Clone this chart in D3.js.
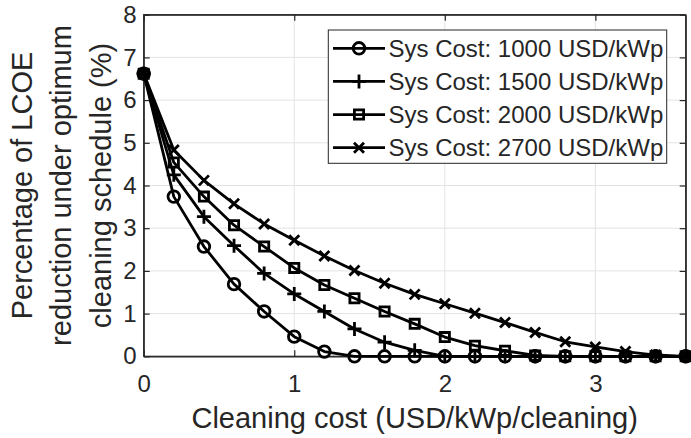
<!DOCTYPE html>
<html><head><meta charset="utf-8">
<script src="https://cdn.jsdelivr.net/npm/d3@7"></script>
<style>
html,body{margin:0;padding:0;background:#fff;}
text{font-family:"Liberation Sans",Arial,Helvetica,sans-serif;fill:#262626;}
</style></head>
<body>
<svg id="chart" width="691" height="438"></svg>
<script>
const xValues = [0,0.2,0.4,0.6,0.8,1.0,1.2,1.4,1.6,1.8,2.0,2.2,2.4,2.6,2.8,3.0,3.2,3.4,3.6];
const cost1000 = [6.62,3.74,2.57,1.69,1.05,0.46,0.11,0,0,0,0,0,0,0,0,0,0,0,0];
const cost1500 = [6.62,4.25,3.27,2.59,1.94,1.46,1.05,0.64,0.33,0.14,0,0,0,0,0,0,0,0,0];
const cost2000 = [6.62,4.54,3.74,3.07,2.57,2.07,1.67,1.36,1.05,0.76,0.45,0.25,0.13,0.02,0,0,0,0,0];
const cost2700 = [6.62,4.83,4.12,3.57,3.10,2.72,2.35,2.01,1.71,1.45,1.23,1.01,0.79,0.56,0.34,0.22,0.11,0.03,0];
const seriesNames = ["Sys Cost: 1000 USD/kWp","Sys Cost: 1500 USD/kWp","Sys Cost: 2000 USD/kWp","Sys Cost: 2700 USD/kWp"];
const markerKinds = ["circle","plus","square","cross"];
const xTicks = [0,1,2,3];
const yTicks = [0,1,2,3,4,5,6,7,8];
const xLabel = "Cleaning cost (USD/kWp/cleaning)";
const yLabelLines = ["Percentage of LCOE","reduction under optimum","cleaning schedule (%)"];

const series = [cost1000,cost1500,cost2000,cost2700].map((vals,i)=>({
  name: seriesNames[i], marker: markerKinds[i],
  points: vals.map((v,j)=>({x:xValues[j], y:v}))
}));

const svg = d3.select("#chart");
const L = 143.7, R = 685.7, T = 14.7, B = 356.3;
const x = d3.scaleLinear().domain([0,3.6]).range([L,R]);
const y = d3.scaleLinear().domain([0,8]).range([B,T]);
const axisColor = "#262626";
const gridColor = "#e3e3e3";

// grid
const grid = svg.append("g");
grid.selectAll("line.gx").data(xTicks.filter(d=>d>0)).join("line")
  .attr("x1",d=>x(d)).attr("x2",d=>x(d)).attr("y1",T).attr("y2",B)
  .attr("stroke",gridColor).attr("stroke-width",1);
grid.selectAll("line.gy").data(yTicks.filter(d=>d>0&&d<8)).join("line")
  .attr("x1",L).attr("x2",R).attr("y1",d=>y(d)).attr("y2",d=>y(d))
  .attr("stroke",gridColor).attr("stroke-width",1);

// axes with inward ticks
const tickLen = 6;
function styleAxis(g){
  g.selectAll("path").attr("stroke",axisColor).attr("stroke-width",1.2);
  g.selectAll("line").attr("stroke",axisColor).attr("stroke-width",1.2);
  g.selectAll("text").attr("fill",axisColor).style("font-size","24px")
   .style("font-family","'Liberation Sans',Arial,sans-serif");
}
const xAxisB = svg.append("g").attr("transform",`translate(0,${B})`)
  .call(d3.axisBottom(x).tickValues(xTicks).tickFormat(d3.format("d")).tickSizeInner(-tickLen).tickSizeOuter(0).tickPadding(18.5));
styleAxis(xAxisB);
const xAxisT = svg.append("g").attr("transform",`translate(0,${T})`)
  .call(d3.axisTop(x).tickValues(xTicks).tickFormat("").tickSizeInner(-tickLen).tickSizeOuter(0));
styleAxis(xAxisT);
const yAxisL = svg.append("g").attr("transform",`translate(${L},0)`)
  .call(d3.axisLeft(y).tickValues(yTicks).tickFormat(d3.format("d")).tickSizeInner(-tickLen).tickSizeOuter(0).tickPadding(7));
styleAxis(yAxisL);
const yAxisR = svg.append("g").attr("transform",`translate(${R},0)`)
  .call(d3.axisRight(y).tickValues(yTicks).tickFormat("").tickSizeInner(-tickLen).tickSizeOuter(0));
styleAxis(yAxisR);
// box
svg.append("rect").attr("x",L).attr("y",T).attr("width",R-L).attr("height",B-T)
  .attr("fill","none").attr("stroke",axisColor).attr("stroke-width",1.2);

// markers
const markerTypes = {
  circle: {draw(ctx,s){const r=s; ctx.moveTo(r,0); ctx.arc(0,0,r,0,2*Math.PI); ctx.closePath();}},
  plus: {draw(ctx,s){ctx.moveTo(-s,0); ctx.lineTo(s,0); ctx.moveTo(0,-s); ctx.lineTo(0,s);}},
  square: {draw(ctx,s){ctx.moveTo(-s,-s); ctx.lineTo(s,-s); ctx.lineTo(s,s); ctx.lineTo(-s,s); ctx.closePath();}},
  cross: {draw(ctx,s){ctx.moveTo(-s,-s); ctx.lineTo(s,s); ctx.moveTo(-s,s); ctx.lineTo(s,-s);}}
};
const markerSize = {circle:5.8, plus:7, square:4.6, cross:5};
const sym = k => d3.symbol().type(markerTypes[k]).size(markerSize[k])();

const line = d3.line().x(d=>x(d.x)).y(d=>y(d.y));
const lw = 2.8;
series.forEach(s=>{
  const g = svg.append("g");
  g.append("path").datum(s.points).attr("d",line)
    .attr("fill","none").attr("stroke","#000").attr("stroke-width",lw).attr("stroke-linejoin","round");
  g.selectAll("path.m").data(s.points).join("path").attr("class","m")
    .attr("transform",d=>`translate(${x(d.x)},${y(d.y)})`)
    .attr("d",sym(s.marker)).attr("fill","none").attr("stroke","#000").attr("stroke-width",lw);
});

// legend
const lg = svg.append("g");
lg.append("rect").attr("x",328.3).attr("y",30).attr("width",338.4).attr("height",133.3)
  .attr("fill","#fff").attr("stroke",axisColor).attr("stroke-width",1);
const rowY = d3.scalePoint().domain(seriesNames).range([48.3,147.7]);
series.forEach(s=>{
  const yy = rowY(s.name);
  lg.append("line").attr("x1",333).attr("x2",385).attr("y1",yy).attr("y2",yy)
    .attr("stroke","#000").attr("stroke-width",lw);
  lg.append("path").attr("transform",`translate(359,${yy})`).attr("d",sym(s.marker))
    .attr("fill","none").attr("stroke","#000").attr("stroke-width",lw);
  lg.append("text").attr("x",388.5).attr("y",yy).attr("dy","0.36em")
    .style("font-size","24px").text(s.name);
});

// axis labels
svg.append("text").attr("x",(L+R)/2).attr("y",428.3).attr("text-anchor","middle")
  .style("font-size","29px").text(xLabel);
const yl = svg.append("g");
const lineX = [31.7,71.2,110.5];
yLabelLines.forEach((t,i)=>{
  yl.append("text").attr("transform",`translate(${lineX[i]},${(T+B)/2}) rotate(-90)`)
    .attr("text-anchor","middle").style("font-size","29px").text(t);
});
</script>
</body></html>
